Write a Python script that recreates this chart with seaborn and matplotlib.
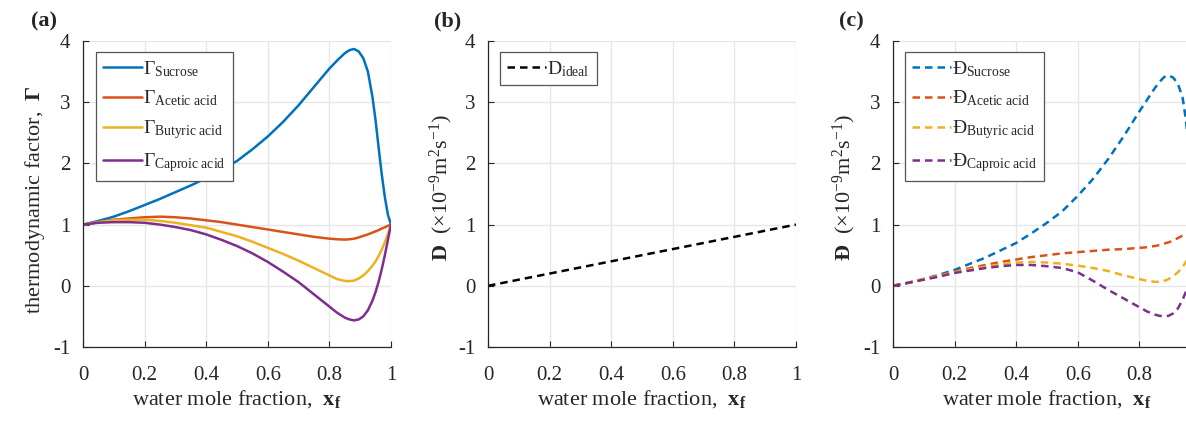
import matplotlib
matplotlib.use("Agg")
import matplotlib.pyplot as plt
import seaborn as sns
import numpy as np
import pandas as pd

# ---------------- data ----------------
x_frac = [0.0, 0.05, 0.1, 0.15, 0.2, 0.25, 0.3, 0.35, 0.4, 0.45, 0.5, 0.55, 0.6,
          0.65, 0.7, 0.75, 0.8, 0.825, 0.85, 0.865, 0.88, 0.895, 0.91, 0.925,
          0.94, 0.95, 0.96, 0.97, 0.98, 0.99, 1.0]

gamma_sucrose = [1.0, 1.06, 1.13, 1.22, 1.32, 1.42, 1.53, 1.64, 1.76, 1.90, 2.04,
                 2.23, 2.44, 2.68, 2.95, 3.25, 3.55, 3.68, 3.80, 3.85, 3.87, 3.83,
                 3.72, 3.50, 3.08, 2.70, 2.25, 1.82, 1.45, 1.16, 1.0]
gamma_acetic = [1.0, 1.04, 1.08, 1.10, 1.12, 1.13, 1.12, 1.10, 1.07, 1.04, 1.00,
                0.96, 0.92, 0.88, 0.84, 0.80, 0.77, 0.76, 0.755, 0.76, 0.77, 0.79,
                0.815, 0.84, 0.87, 0.89, 0.91, 0.935, 0.955, 0.98, 1.0]
gamma_butyric = [1.0, 1.04, 1.07, 1.08, 1.08, 1.06, 1.03, 0.99, 0.95, 0.88, 0.81,
                 0.72, 0.62, 0.52, 0.41, 0.29, 0.17, 0.11, 0.08, 0.075, 0.085,
                 0.12, 0.17, 0.24, 0.33, 0.40, 0.49, 0.59, 0.71, 0.85, 1.0]
gamma_caproic = [1.0, 1.03, 1.04, 1.04, 1.03, 1.00, 0.96, 0.91, 0.84, 0.75, 0.65,
                 0.53, 0.39, 0.23, 0.06, -0.14, -0.34, -0.44, -0.52, -0.55, -0.565,
                 -0.55, -0.50, -0.40, -0.24, -0.10, 0.07, 0.27, 0.50, 0.75, 1.0]

x_ideal = [0.0, 1.0]
d_ideal = [0.0, 1.0]

d_sucrose = [0.0, 0.05, 0.11, 0.18, 0.26, 0.36, 0.46, 0.58, 0.70, 0.86, 1.03, 1.22,
             1.47, 1.75, 2.08, 2.45, 2.85, 3.04, 3.23, 3.33, 3.41, 3.44, 3.40,
             3.30, 3.08, 2.75, 2.25, 1.80, 1.42, 1.15, 1.0]
d_acetic = [0.0, 0.05, 0.11, 0.17, 0.23, 0.29, 0.34, 0.39, 0.43, 0.47, 0.50, 0.53,
            0.55, 0.57, 0.59, 0.60, 0.62, 0.63, 0.65, 0.665, 0.69, 0.71, 0.74,
            0.78, 0.82, 0.85, 0.88, 0.91, 0.94, 0.97, 1.0]
d_butyric = [0.0, 0.05, 0.11, 0.16, 0.22, 0.27, 0.31, 0.35, 0.38, 0.39, 0.38,
             0.36, 0.33, 0.29, 0.24, 0.17, 0.11, 0.08, 0.065, 0.065, 0.08, 0.11,
             0.16, 0.22, 0.31, 0.38, 0.47, 0.57, 0.69, 0.84, 1.0]
d_caproic = [0.0, 0.05, 0.10, 0.15, 0.21, 0.25, 0.29, 0.32, 0.34, 0.34, 0.32, 0.29,
             0.22, 0.08, -0.07, -0.21, -0.35, -0.42, -0.47, -0.49, -0.50, -0.49,
             -0.45, -0.37, -0.23, -0.11, 0.06, 0.25, 0.48, 0.74, 1.0]

species = ["Sucrose", "Acetic acid", "Butyric acid", "Caproic acid"]
colors = ["#0072BD", "#D95319", "#EDB120", "#7E2F8E"]
x_ticks = [0, 0.2, 0.4, 0.6, 0.8, 1]
x_ticklabels = ["0", "0.2", "0.4", "0.6", "0.8", "1"]
y_ticks = [-1, 0, 1, 2, 3, 4]
y_ticklabels = ["-1", "0", "1", "2", "3", "4"]

# ---------------- style ----------------
sns.set_theme(style="ticks")
plt.rcParams["font.family"] = ["Liberation Serif", "DejaVu Serif"]
plt.rcParams["mathtext.fontset"] = "custom"
plt.rcParams["mathtext.rm"] = "Liberation Serif"
plt.rcParams["mathtext.it"] = "Liberation Serif:italic"
plt.rcParams["mathtext.bf"] = "Liberation Serif:bold"
plt.rcParams["mathtext.sf"] = "Liberation Serif"

TXT = "#262626"
GRID = "#e6e6e6"
TICK_FS = 15
LAB_FS = 16
LEG_FS = 14

fig = plt.figure(figsize=(11.86, 4.24), dpi=100)
W, H = 1186.0, 424.0
ax_w = 308 / W
ax_h = 306 / H
ax_b = (H - 347) / H
lefts = [83 / W, 488 / W, 893 / W]
axes = [fig.add_axes([l, ax_b, ax_w, ax_h]) for l in lefts]


def style_axes(ax):
    ax.set_xlim(0, 1)
    ax.set_ylim(-1, 4)
    ax.set_xticks(x_ticks)
    ax.set_xticklabels(x_ticklabels)
    ax.set_yticks(y_ticks)
    ax.set_yticklabels(y_ticklabels)
    ax.grid(True, color=GRID, lw=1.0)
    ax.set_axisbelow(True)
    for s in ["top", "right"]:
        ax.spines[s].set_visible(False)
    for s in ["left", "bottom"]:
        ax.spines[s].set_color(TXT)
        ax.spines[s].set_linewidth(0.9)
    ax.tick_params(direction="in", length=4, width=0.8, colors=TXT,
                   labelsize=TICK_FS, labelcolor=TXT)
    ax.tick_params(axis="x", pad=14)
    ax.tick_params(axis="y", pad=9)


def xlabel(ax):
    ax.set_xlabel(r"water mole fraction,  $\mathbf{x}_{\mathbf{f}}$",
                  fontsize=LAB_FS, color=TXT, labelpad=2)


def legend(ax, anchor):
    leg = ax.legend(loc="upper left", bbox_to_anchor=anchor, borderaxespad=0,
                    fontsize=LEG_FS, frameon=True, fancybox=False,
                    handlelength=2.0, handletextpad=0.08, labelspacing=0.52,
                    borderpad=0.35, framealpha=1)
    leg.get_frame().set_edgecolor("#555555")
    leg.get_frame().set_linewidth(0.9)
    for t in leg.get_texts():
        t.set_color(TXT)


def sub(name):
    return r"_{\mathrm{%s}}" % name.replace(" ", r"\ ")


# ---- (a) thermodynamic factor ----
ax = axes[0]
for name, vals, c in zip(species, [gamma_sucrose, gamma_acetic, gamma_butyric, gamma_caproic], colors):
    lab = r"$\mathrm{\Gamma}%s$" % sub(name)
    sns.lineplot(x=x_frac, y=vals, ax=ax, color=c, lw=1.8, label=lab,
                 estimator=None, sort=False)
style_axes(ax)
xlabel(ax)
ax.set_ylabel(r"thermodynamic factor,  $\mathbf{\Gamma}$", fontsize=LAB_FS, color=TXT)
ax.yaxis.set_label_coords(-0.117, 0.48)
legend(ax, ((96 - 83) / 308, (347 - 52) / 306))

# ---- (b) ideal diffusivity ----
ax = axes[1]
sns.lineplot(x=x_ideal, y=d_ideal, ax=ax, color="black", lw=1.8,
             label=r"$\mathrm{D}%s$" % sub("ideal"), estimator=None, sort=False,
             linestyle=(0, (3.0, 2.0)))
style_axes(ax)
xlabel(ax)
ax.set_ylabel(r"$\mathbf{D}$  $(\times10^{-9}\mathrm{m}^{2}\mathrm{s}^{-1})$",
              fontsize=LAB_FS, color=TXT)
ax.yaxis.set_label_coords(-0.107, 0.52)
legend(ax, ((500 - 488) / 308, (347 - 52) / 306))

# ---- (c) Maxwell-Stefan diffusivity ----
ax = axes[2]
for name, vals, c in zip(species, [d_sucrose, d_acetic, d_butyric, d_caproic], colors):
    lab = r"$\mathrm{Đ}%s$" % sub(name)
    sns.lineplot(x=x_frac, y=vals, ax=ax, color=c, lw=1.8, label=lab,
                 estimator=None, sort=False, linestyle=(0, (3.0, 2.0)))
style_axes(ax)
xlabel(ax)
ax.set_ylabel(r"$\mathbf{Đ}$  $(\times10^{-9}\mathrm{m}^{2}\mathrm{s}^{-1})$",
              fontsize=LAB_FS, color=TXT)
ax.yaxis.set_label_coords(-0.114, 0.52)
legend(ax, ((905 - 893) / 308, (347 - 52) / 306))
# the reference is cropped at the right edge: the "1" tick label falls outside
ax.get_xticklabels()[-1].set_visible(False)

# panel letters
for lbl, px in zip(["(a)", "(b)", "(c)"], [31, 434, 839]):
    fig.text(px / W, 1 - 21 / H, lbl, fontsize=16, fontweight="bold",
             color=TXT, ha="left", va="center")

fig.savefig("out.png", dpi=100)
